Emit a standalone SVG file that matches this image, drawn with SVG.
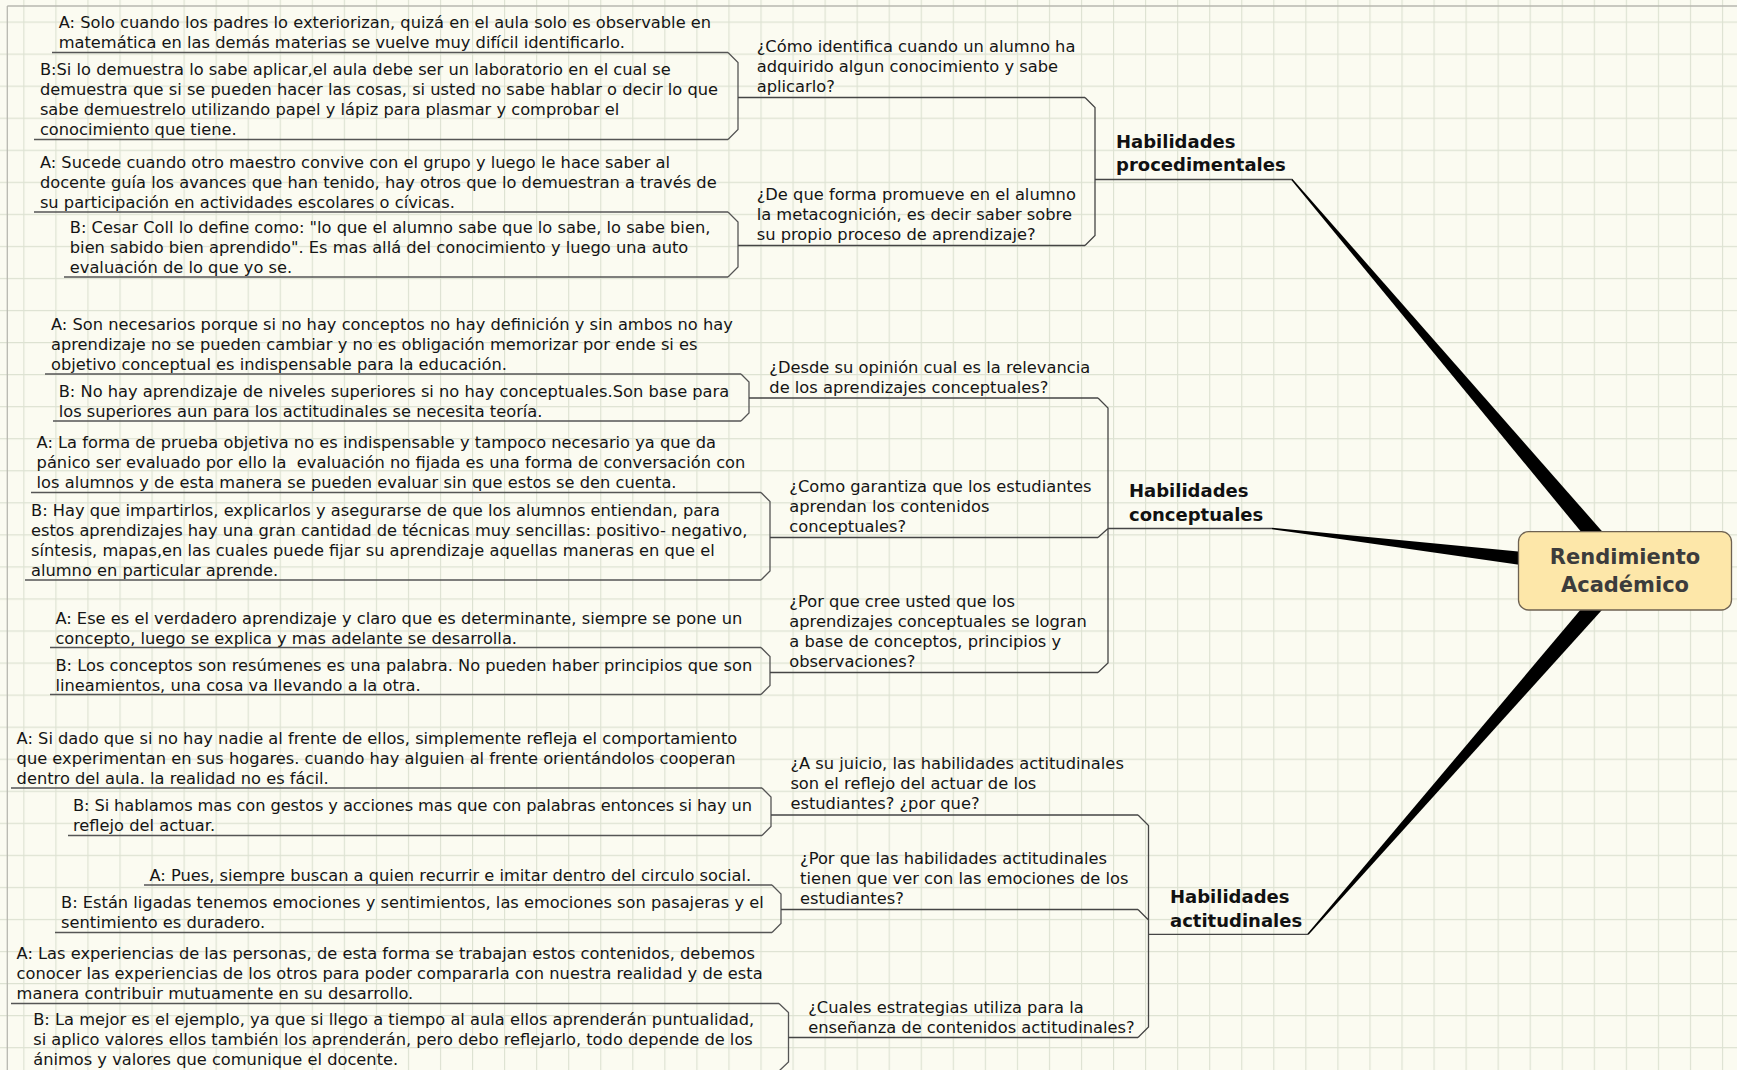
<svg xmlns="http://www.w3.org/2000/svg" width="1737" height="1070" viewBox="0 0 1737 1070">
<defs>
<pattern id="grid" width="32.05" height="32.05" patternUnits="userSpaceOnUse" x="23.3" y="21.5">
<path d="M0 0.5H32.05M0.5 0V32.05" stroke="#dde2d2" stroke-width="1.3" fill="none"/>
</pattern>
<style>
.ans{font-family:"DejaVu Sans",sans-serif;font-size:16.25px;fill:#151515}
.q{font-family:"DejaVu Sans",sans-serif;font-size:16.3px;fill:#151515}
.topic{font-family:"DejaVu Sans",sans-serif;font-weight:bold;font-size:18px;fill:#111}
.central{font-family:"DejaVu Sans",sans-serif;font-weight:bold;font-size:21px;fill:#3c3c3c;text-anchor:middle}
.ul{fill:none;stroke:#454545;stroke-width:1.3}
.br{fill:none;stroke:#555;stroke-width:1.3}
.trunk{fill:#000}
</style>
</defs>
<rect width="1737" height="1070" fill="#fbfbf1"/>
<rect width="1737" height="1070" fill="url(#grid)"/>
<path d="M7.3 6H1737M7.3 6V1070" stroke="#b8b8b0" stroke-width="1.3" fill="none"/>

<g id="connectors">
<polygon class="trunk" points="1291.13,179.79 1618.15,576.83 1631.85,565.17 1292.27,178.81"/>
<polygon class="trunk" points="1271.91,529.14 1623.92,579.94 1626.08,562.07 1272.09,527.66"/>
<polygon class="trunk" points="1308.57,934.79 1631.78,576.92 1618.22,565.08 1307.43,933.81"/>
<path class="br" d="M728 52.5L738 62.5V129.5L728 139.5"/>
<path class="br" d="M728 212L738 222V267L728 277"/>
<path class="ul" d="M1085 97.5L1095 107.5V235.5L1085 245.5M1095 179.5H1110"/>
<path class="br" d="M741 374L749 382V413L741 421"/>
<path class="br" d="M761 492.5L770 501.5V571L761 580"/>
<path class="br" d="M761 647.5L770 656.5V685.5L761 694.5"/>
<path class="ul" d="M1098 398L1108 408V663L1098 672.5M1098 537.5L1108 528.5M1108 528.5H1125"/>
<path class="br" d="M762 788L771 797V826.5L762 835.5"/>
<path class="br" d="M772 885L781 894V923.5L772 932.5"/>
<path class="br" d="M779 1003.5L788.5 1012.5V1062L779 1071"/>
<path class="ul" d="M1138 815L1148.5 825.5V1027L1138 1037.5M1138 909.5L1148.5 920M1148.5 934.3H1165"/>
</g>

<g id="central">
<rect x="1518.5" y="531.7" width="213" height="78.3" rx="10" fill="#fde7a9" stroke="#6e6252" stroke-width="1.3"/>
<text class="central" x="1625" y="564">Rendimiento</text>
<text class="central" x="1625" y="592">Académico</text>
</g>

<g id="topic-procedimentales">
<text class="topic" x="1116" y="148">Habilidades<tspan x="1116" dy="23">procedimentales</tspan></text>
<path class="ul" d="M1110 179.5H1292"/>
</g>
<g id="topic-conceptuales">
<text class="topic" x="1129" y="497">Habilidades<tspan x="1129" dy="23.5">conceptuales</tspan></text>
<path class="ul" d="M1125 528.5H1272"/>
</g>
<g id="topic-actitudinales">
<text class="topic" x="1170" y="903">Habilidades<tspan x="1170" dy="23.5">actitudinales</tspan></text>
<path class="ul" d="M1165 934.3H1308"/>
</g>

<g id="q1a">
<text class="q" x="756.7" y="51.5">¿Cómo identifica cuando un alumno ha<tspan x="756.7" dy="20">adquirido algun conocimiento y sabe</tspan><tspan x="756.7" dy="20">aplicarlo?</tspan></text>
<path class="ul" d="M738 97.5H1085"/>
</g>
<g id="q1b">
<text class="q" x="756.7" y="200">¿De que forma promueve en el alumno<tspan x="756.7" dy="20">la metacognición, es decir saber sobre</tspan><tspan x="756.7" dy="20">su propio proceso de aprendizaje?</tspan></text>
<path class="ul" d="M738 245.5H1085"/>
</g>
<g id="q2a">
<text class="q" x="769.3" y="372.5">¿Desde su opinión cual es la relevancia<tspan x="769.3" dy="20">de los aprendizajes conceptuales?</tspan></text>
<path class="ul" d="M749 398H1098"/>
</g>
<g id="q2b">
<text class="q" x="789.3" y="492">¿Como garantiza que los estudiantes<tspan x="789.3" dy="20">aprendan los contenidos</tspan><tspan x="789.3" dy="20">conceptuales?</tspan></text>
<path class="ul" d="M770 537.5H1098"/>
</g>
<g id="q2c">
<text class="q" x="789.3" y="606.5">¿Por que cree usted que los<tspan x="789.3" dy="20">aprendizajes conceptuales se logran</tspan><tspan x="789.3" dy="20">a base de conceptos, principios y</tspan><tspan x="789.3" dy="20">observaciones?</tspan></text>
<path class="ul" d="M770 672.5H1098"/>
</g>
<g id="q3a">
<text class="q" x="790.4" y="769.3">¿A su juicio, las habilidades actitudinales<tspan x="790.4" dy="20">son el reflejo del actuar de los</tspan><tspan x="790.4" dy="20">estudiantes? ¿por que?</tspan></text>
<path class="ul" d="M771 815H1138"/>
</g>
<g id="q3b">
<text class="q" x="800" y="863.5">¿Por que las habilidades actitudinales<tspan x="800" dy="20">tienen que ver con las emociones de los</tspan><tspan x="800" dy="20">estudiantes?</tspan></text>
<path class="ul" d="M781 909.5H1138"/>
</g>
<g id="q3c">
<text class="q" x="808.2" y="1012.5">¿Cuales estrategias utiliza para la<tspan x="808.2" dy="20">enseñanza de contenidos actitudinales?</tspan></text>
<path class="ul" d="M788.5 1037.5H1138"/>
</g>

<g id="a1a">
<text class="ans" x="58.7" y="28.2">A: Solo cuando los padres lo exteriorizan, quizá en el aula solo es observable en<tspan x="58.7" dy="20">matemática en las demás materias se vuelve muy difícil identificarlo.</tspan></text>
<path class="br" d="M52 52.5H728"/>
</g>
<g id="b1a">
<text class="ans" x="39.9" y="74.8">B:Si lo demuestra lo sabe aplicar,el aula debe ser un laboratorio en el cual se<tspan x="39.9" dy="20">demuestra que si se pueden hacer las cosas, si usted no sabe hablar o decir lo que</tspan><tspan x="39.9" dy="20">sabe demuestrelo utilizando papel y lápiz para plasmar y comprobar el</tspan><tspan x="39.9" dy="20">conocimiento que tiene.</tspan></text>
<path class="br" d="M34 139.5H728"/>
</g>
<g id="a1b">
<text class="ans" x="39.9" y="167.5">A: Sucede cuando otro maestro convive con el grupo y luego le hace saber al<tspan x="39.9" dy="20">docente guía los avances que han tenido, hay otros que lo demuestran a través de</tspan><tspan x="39.9" dy="20">su participación en actividades escolares o cívicas.</tspan></text>
<path class="br" d="M34 212H728"/>
</g>
<g id="b1b">
<text class="ans" x="69.8" y="232.5">B: Cesar Coll lo define como: "lo que el alumno sabe que lo sabe, lo sabe bien,<tspan x="69.8" dy="20">bien sabido bien aprendido". Es mas allá del conocimiento y luego una auto</tspan><tspan x="69.8" dy="20">evaluación de lo que yo se.</tspan></text>
<path class="br" d="M64 277H728"/>
</g>

<g id="a2a">
<text class="ans" x="51" y="329.5">A: Son necesarios porque si no hay conceptos no hay definición y sin ambos no hay<tspan x="51" dy="20">aprendizaje no se pueden cambiar y no es obligación memorizar por ende si es</tspan><tspan x="51" dy="20">objetivo conceptual es indispensable para la educación.</tspan></text>
<path class="br" d="M45 374H741"/>
</g>
<g id="b2a">
<text class="ans" x="58.7" y="396.5">B: No hay aprendizaje de niveles superiores si no hay conceptuales.Son base para<tspan x="58.7" dy="20">los superiores aun para los actitudinales se necesita teoría.</tspan></text>
<path class="br" d="M53 421H741"/>
</g>
<g id="a2b">
<text class="ans" x="36.6" y="447.8">A: La forma de prueba objetiva no es indispensable y tampoco necesario ya que da<tspan x="36.6" dy="20">pánico ser evaluado por ello la&#160; evaluación no fijada es una forma de conversación con</tspan><tspan x="36.6" dy="20">los alumnos y de esta manera se pueden evaluar sin que estos se den cuenta.</tspan></text>
<path class="br" d="M31 492.5H761"/>
</g>
<g id="b2b">
<text class="ans" x="31" y="515.5">B: Hay que impartirlos, explicarlos y asegurarse de que los alumnos entiendan, para<tspan x="31" dy="20">estos aprendizajes hay una gran cantidad de técnicas muy sencillas: positivo- negativo,</tspan><tspan x="31" dy="20">síntesis, mapas,en las cuales puede fijar su aprendizaje aquellas maneras en que el</tspan><tspan x="31" dy="20">alumno en particular aprende.</tspan></text>
<path class="br" d="M25 580H761"/>
</g>
<g id="a2c">
<text class="ans" x="55.4" y="624">A: Ese es el verdadero aprendizaje y claro que es determinante, siempre se pone un<tspan x="55.4" dy="20">concepto, luego se explica y mas adelante se desarrolla.</tspan></text>
<path class="br" d="M50 647.5H761"/>
</g>
<g id="b2c">
<text class="ans" x="55.4" y="670.5">B: Los conceptos son resúmenes es una palabra. No pueden haber principios que son<tspan x="55.4" dy="20">lineamientos, una cosa va llevando a la otra.</tspan></text>
<path class="br" d="M50 694.5H761"/>
</g>

<g id="a3a">
<text class="ans" x="16.6" y="743.5">A: Si dado que si no hay nadie al frente de ellos, simplemente refleja el comportamiento<tspan x="16.6" dy="20">que experimentan en sus hogares. cuando hay alguien al frente orientándolos cooperan</tspan><tspan x="16.6" dy="20">dentro del aula. la realidad no es fácil.</tspan></text>
<path class="br" d="M11 788H762"/>
</g>
<g id="b3a">
<text class="ans" x="73" y="811"><tspan textLength="679" lengthAdjust="spacing">B: Si hablamos mas con gestos y acciones mas que con palabras entonces si hay un</tspan><tspan x="73" dy="20">reflejo del actuar.</tspan></text>
<path class="br" d="M68 835.5H762"/>
</g>
<g id="a3b">
<text class="ans" x="149.5" y="880.5">A: Pues, siempre buscan a quien recurrir e imitar dentro del circulo social.</text>
<path class="br" d="M144 885H772"/>
</g>
<g id="b3b">
<text class="ans" x="61" y="907.5">B: Están ligadas tenemos emociones y sentimientos, las emociones son pasajeras y el<tspan x="61" dy="20">sentimiento es duradero.</tspan></text>
<path class="br" d="M55 932.5H772"/>
</g>
<g id="a3c">
<text class="ans" x="16.6" y="959">A: Las experiencias de las personas, de esta forma se trabajan estos contenidos, debemos<tspan x="16.6" dy="20">conocer las experiencias de los otros para poder compararla con nuestra realidad y de esta</tspan><tspan x="16.6" dy="20">manera contribuir mutuamente en su desarrollo.</tspan></text>
<path class="br" d="M11 1003.5H779"/>
</g>
<g id="b3c">
<text class="ans" x="33.2" y="1025">B: La mejor es el ejemplo, ya que si llego a tiempo al aula ellos aprenderán puntualidad,<tspan x="33.2" dy="20">si aplico valores ellos también los aprenderán, pero debo reflejarlo, todo depende de los</tspan><tspan x="33.2" dy="20">ánimos y valores que comunique el docente.</tspan></text>
<path class="br" d="M28 1071H779"/>
</g>
</svg>
